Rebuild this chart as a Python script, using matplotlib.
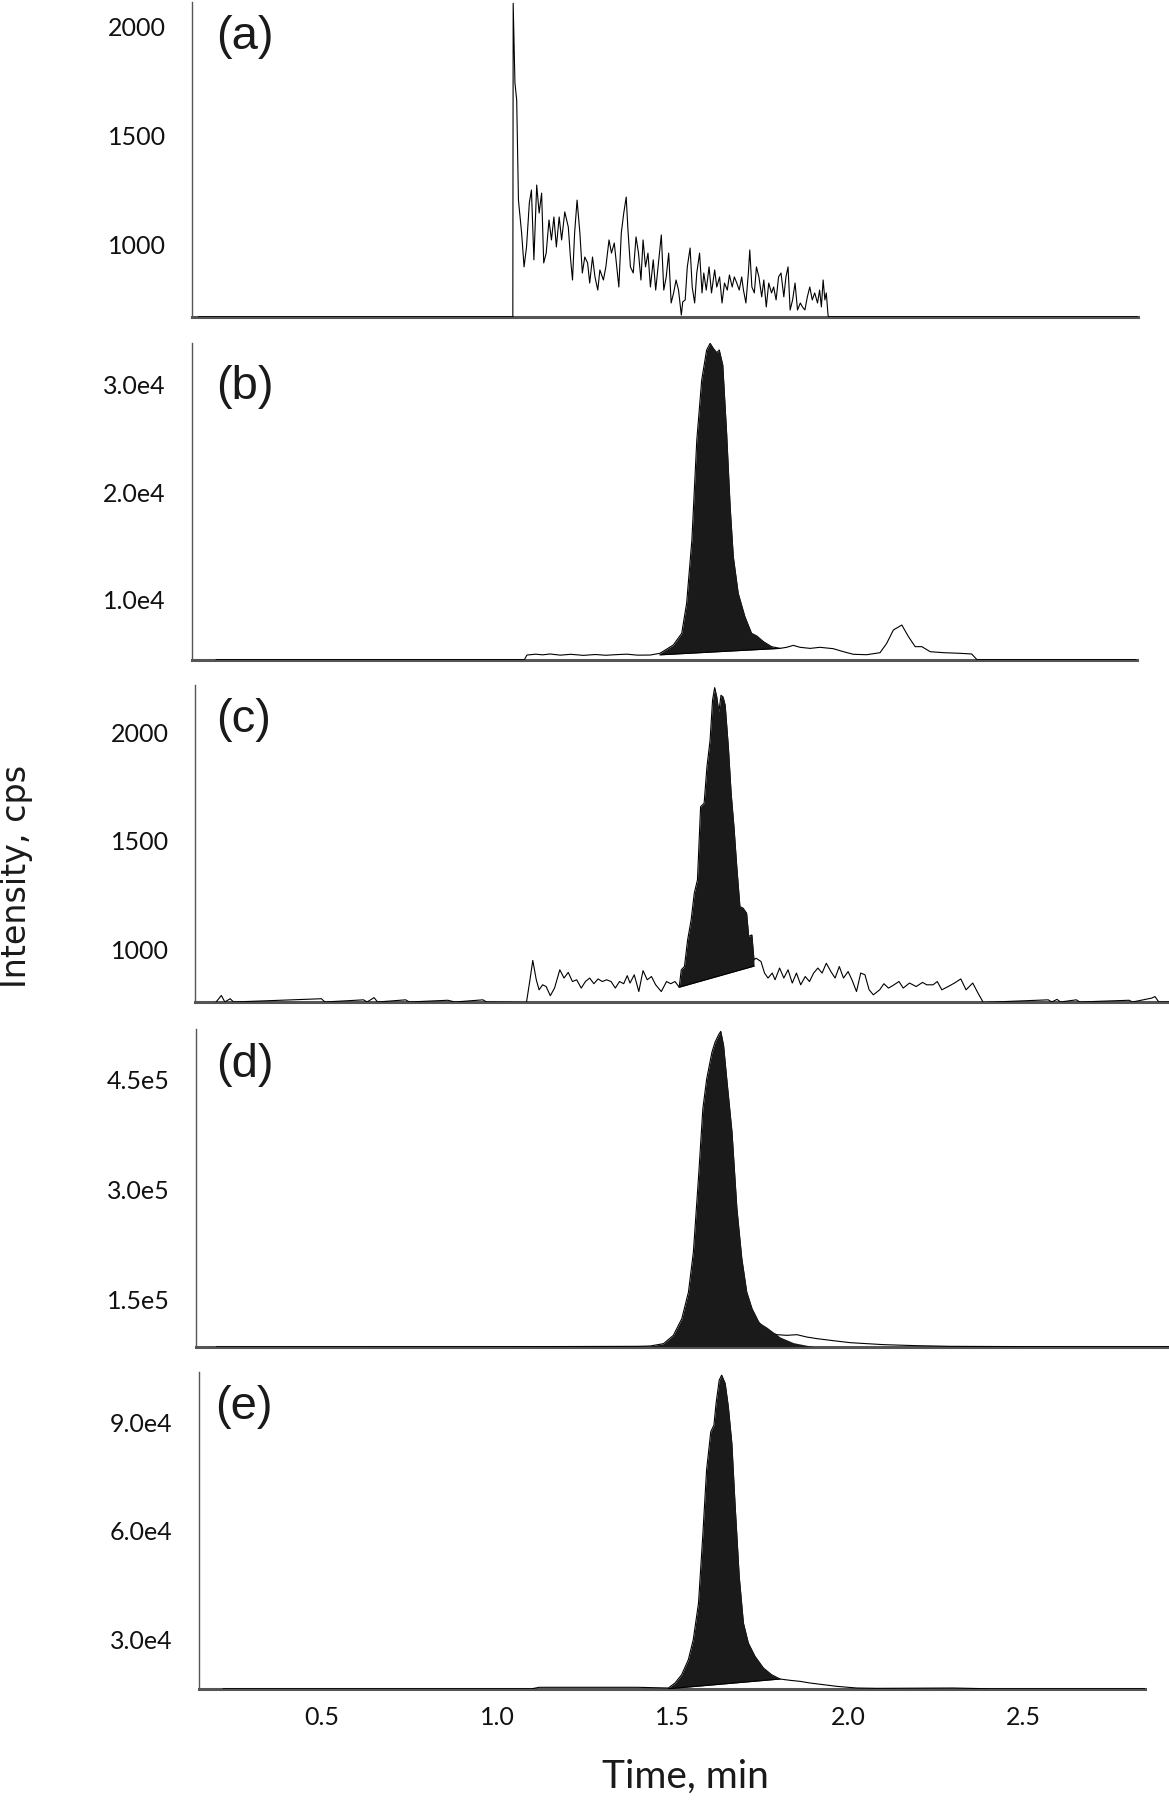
import numpy as np
import matplotlib
matplotlib.use("Agg")
import matplotlib.pyplot as plt


# --------------------------------------------------
# Chromatogram traces (time in min, intensity in cps)
# --------------------------------------------------

# (a) noisy trace
a_time = [
    0.150, 1.045, 1.046, 1.051, 1.056, 1.061, 1.070, 1.077, 1.084, 1.092,
    1.098, 1.105, 1.113, 1.120, 1.127, 1.133, 1.140, 1.148, 1.155, 1.162,
    1.169, 1.177, 1.184, 1.193, 1.203, 1.209, 1.215, 1.221, 1.228, 1.236,
    1.243, 1.250, 1.258, 1.264, 1.272, 1.279, 1.287, 1.293, 1.303, 1.310,
    1.319, 1.326, 1.334, 1.340, 1.347, 1.354, 1.361, 1.368, 1.373, 1.380,
    1.388, 1.396, 1.403, 1.410, 1.416, 1.423, 1.430, 1.437, 1.445, 1.452,
    1.460, 1.468, 1.475, 1.482, 1.489, 1.496, 1.503, 1.510, 1.517, 1.525,
    1.529, 1.536, 1.542, 1.550, 1.556, 1.563, 1.569, 1.577, 1.584, 1.589,
    1.596, 1.604, 1.611, 1.620, 1.626, 1.634, 1.641, 1.648, 1.656, 1.662,
    1.670, 1.676, 1.683, 1.690, 1.697, 1.702, 1.709, 1.716, 1.720, 1.726,
    1.733, 1.739, 1.746, 1.754, 1.760, 1.767, 1.774, 1.782, 1.788, 1.795,
    1.802, 1.809, 1.817, 1.823, 1.829, 1.835, 1.842, 1.849, 1.856, 1.864,
    1.870, 1.877, 1.884, 1.891, 1.898, 1.905, 1.913, 1.919, 1.924, 1.929,
    1.934, 1.938, 1.943, 1.944, 2.826,
]
a_int = [
    672, 672, 2104, 1740, 1662, 1205, 1055, 900, 991, 1192,
    1251, 932, 1274, 1146, 1237, 918, 963, 1114, 1023, 1128,
    991, 1128, 1023, 1151, 1082, 945, 840, 1055, 1205, 1055,
    872, 945, 918, 826, 945, 854, 794, 886, 840, 900,
    1023, 963, 1009, 918, 808, 1055, 1146, 1219, 1068, 900,
    872, 1037, 963, 840, 1023, 900, 963, 808, 932, 794,
    918, 1046, 794, 854, 963, 735, 781, 840, 794, 680,
    740, 749, 900, 986, 808, 735, 872, 963, 781, 872,
    794, 900, 781, 886, 808, 854, 735, 826, 794, 863,
    808, 854, 826, 794, 854, 794, 735, 872, 977, 808,
    781, 900, 854, 763, 840, 717, 826, 781, 808, 749,
    854, 872, 763, 854, 900, 703, 749, 826, 703, 735,
    717, 703, 763, 808, 749, 781, 735, 794, 717, 840,
    749, 781, 680, 672, 672,
]

# (b)
b_time = [
    0.200, 1.078, 1.085, 1.110, 1.130, 1.151, 1.180, 1.210, 1.246, 1.280,
    1.310, 1.341, 1.370, 1.400, 1.436, 1.464, 1.502, 1.526, 1.540, 1.555,
    1.569, 1.583, 1.597, 1.607, 1.616, 1.626, 1.633, 1.643, 1.654, 1.664,
    1.673, 1.687, 1.706, 1.725, 1.740, 1.759, 1.782, 1.806, 1.825, 1.844,
    1.863, 1.892, 1.920, 1.958, 1.987, 2.015, 2.053, 2.091, 2.110, 2.129,
    2.153, 2.172, 2.191, 2.210, 2.234, 2.272, 2.319, 2.352, 2.367, 2.820,
]
b_int = [
    4450, 4450, 4880, 4960, 4900, 4980, 4870, 4950, 4850, 4930,
    4860, 4920, 4960, 4870, 4880, 5040, 5810, 6900, 9690, 15580,
    24880, 30460, 33250, 33870, 33400, 33000, 33250, 31850, 25500, 18680,
    14030, 10620, 8450, 6900, 6650, 6120, 5660, 5500, 5600, 5780,
    5600, 5500, 5600, 5470, 5190, 4950, 4910, 5100, 5970, 7210,
    7670, 6590, 5660, 5660, 5190, 5100, 5040, 4980, 4450, 4450,
]
b_peak = (1.464, 1.806)
b_base = (4900, 5500)

# (c)
c_time = [
    0.200, 0.215, 0.225, 0.240, 0.250, 0.500, 0.510, 0.620, 0.630, 0.650,
    0.660, 0.740, 0.750, 0.860, 0.880, 0.960, 0.970,
    1.084, 1.094, 1.102, 1.112, 1.120, 1.130, 1.140, 1.152, 1.164, 1.179,
    1.191, 1.203, 1.215, 1.227, 1.240, 1.252, 1.264, 1.276, 1.288, 1.300,
    1.312, 1.325, 1.337, 1.349, 1.361, 1.371, 1.379, 1.391, 1.404, 1.416,
    1.428, 1.440, 1.452, 1.468, 1.483, 1.495, 1.507, 1.519, 1.525, 1.534,
    1.543, 1.553, 1.562, 1.571, 1.580, 1.590, 1.598, 1.607, 1.614, 1.620,
    1.626, 1.632, 1.638, 1.644, 1.650, 1.659, 1.667, 1.675, 1.683, 1.692,
    1.701, 1.711, 1.717, 1.726, 1.732, 1.738, 1.752, 1.762, 1.772, 1.784,
    1.792, 1.805, 1.817, 1.829, 1.841, 1.853, 1.865, 1.878, 1.890, 1.902,
    1.914, 1.926, 1.938, 1.951, 1.963, 1.975, 1.987, 2.000, 2.011, 2.024,
    2.036, 2.048, 2.060, 2.072, 2.090, 2.102, 2.115, 2.127, 2.145, 2.157,
    2.175, 2.194, 2.212, 2.224, 2.242, 2.254, 2.267, 2.285, 2.303, 2.321,
    2.336, 2.355, 2.370, 2.385,
    2.570, 2.580, 2.595, 2.605, 2.650, 2.660, 2.800, 2.810, 2.865, 2.874,
    2.885, 2.914,
]
c_int = [
    760, 790, 760, 775, 760, 775, 760, 770, 760, 780,
    760, 770, 760, 768, 760, 770, 760,
    758, 862, 951, 862, 816, 839, 831, 789, 824, 908,
    870, 896, 854, 862, 824, 854, 870, 844, 866, 854,
    862, 854, 824, 854, 844, 881, 847, 885, 808, 904,
    862, 877, 839, 808, 854, 844, 854, 828, 908, 923,
    1045, 1137, 1260, 1321, 1657, 1673, 1840, 1963, 2146, 2204,
    2161, 2092, 2169, 2161, 2123, 1932, 1718, 1565, 1382, 1198,
    1191, 1168, 1061, 1068, 954, 961, 946, 893, 870, 893,
    862, 916, 870, 908, 847, 893, 839, 877, 854, 893,
    916, 893, 938, 900, 870, 923, 870, 900, 862, 808,
    893, 885, 816, 793, 816, 844, 824, 835, 854, 824,
    847, 831, 850, 839, 839, 854, 816, 831, 847, 866,
    816, 847, 801, 758,
    770, 760, 772, 760, 770, 760, 768, 760, 778, 785,
    760, 760,
]
c_peak = (1.519, 1.732)
c_base = (828, 925)

# (d)
d_time = [
    0.200, 1.100, 1.400, 1.436, 1.474, 1.502, 1.526, 1.545, 1.559, 1.574,
    1.586, 1.597, 1.612, 1.621, 1.631, 1.637, 1.645, 1.654, 1.669, 1.683,
    1.697, 1.711, 1.726, 1.745, 1.768, 1.797, 1.825, 1.854, 1.882, 1.911,
    1.958, 2.006, 2.101, 2.196, 2.291, 2.500, 2.914,
]
d_int = [
    86200, 86400, 86800, 87270, 90450, 101800, 124500, 160900, 215400, 320000,
    410900, 451800, 488100, 501800, 511800, 516300, 497200, 451800, 379100, 274500,
    206400, 160900, 138200, 120000, 107300, 102700, 101800, 102700, 99500, 97300,
    94500, 91800, 89100, 87700, 86800, 86400, 86300,
]
# integration edge of the tailing side (drops below the raw trace)
d_tail_time = [1.745, 1.768, 1.806, 1.844, 1.882, 1.900]
d_tail_int = [120000, 113000, 99500, 91800, 88200, 86700]
d_peak = (1.436, 1.900)
d_base = (86500, 86500)

# (e)
e_time = [
    0.220, 1.100, 1.120, 1.400, 1.488, 1.507, 1.526, 1.545, 1.559, 1.574,
    1.586, 1.597, 1.609, 1.618, 1.624, 1.633, 1.640, 1.650, 1.659, 1.669,
    1.678, 1.690, 1.702, 1.716, 1.735, 1.759, 1.782, 1.806, 1.835, 1.863,
    1.892, 1.930, 1.968, 2.025, 2.082, 2.300, 2.400, 2.846,
]
e_int = [
    16500, 16500, 16900, 16900, 16700, 18080, 20380, 24500, 30000, 40100,
    58450, 76800, 87350, 89180, 95140, 101570, 102940, 100650, 94230, 84140,
    67620, 47440, 34590, 29090, 25420, 22210, 20380, 19180, 18820, 18540,
    18080, 17620, 17160, 16700, 16610, 16700, 16500, 16500,
]
e_peak = (1.488, 1.806)
e_base = (16500, 19180)

# axis ranges and tick labels
xlims = [(0.131, 2.826), (0.131, 2.823), (0.140, 2.914), (0.142, 2.914), (0.151, 2.846)]
ylims = [(671, 2110), (4419, 33900), (760, 2216), (85900, 519500), (16430, 103800)]
yticks = [
    [1000, 1500, 2000],
    [1.0e4, 2.0e4, 3.0e4],
    [1000, 1500, 2000],
    [1.5e5, 3.0e5, 4.5e5],
    [3.0e4, 6.0e4, 9.0e4],
]
ytick_labels = [
    ["1000", "1500", "2000"],
    ["1.0e4", "2.0e4", "3.0e4"],
    ["1000", "1500", "2000"],
    ["1.5e5", "3.0e5", "4.5e5"],
    ["3.0e4", "6.0e4", "9.0e4"],
]
xticks = [0.5, 1.0, 1.5, 2.0, 2.5]
xtick_labels = ["0.5", "1.0", "1.5", "2.0", "2.5"]
panel_letters = ["(a)", "(b)", "(c)", "(d)", "(e)"]


# --------------------------------------------------
# Layout (pixel boxes of the five stacked panels: left, top, right, bottom)
# --------------------------------------------------

W, H = 1169, 1800
boxes = [
    (192, 2, 1138, 317),
    (192, 343, 1137, 660),
    (195, 685, 1169, 1002),
    (196, 1029, 1169, 1347),
    (199, 1372, 1145, 1689),
]
letter_pos = [(216, 15), (216, 365), (216, 698), (216, 1043), (215, 1385)]

tick_font = "Lato"
fill_col = "#1a1a1a"

fig = plt.figure(figsize=(W / 100, H / 100), dpi=100)

traces = [
    (a_time, a_int),
    (b_time, b_int),
    (c_time, c_int),
    (d_time, d_int),
    (e_time, e_int),
]
peaks = [None, (b_peak, b_base), (c_peak, c_base), (d_peak, d_base), (e_peak, e_base)]

for i, (L, T, R, B) in enumerate(boxes):
    ax = fig.add_axes([L / W, 1 - B / H, (R - L) / W, (B - T) / H])
    t = np.array(traces[i][0])
    y = np.array(traces[i][1])

    ax.plot(t, y, color="black", lw=0.8, zorder=3)

    if peaks[i] is not None:
        (t0, t1), (y0, y1) = peaks[i]
        m = (t >= t0) & (t <= t1)
        ft = t[m]
        fy = y[m]
        if i == 3:
            m = (t >= t0) & (t < d_tail_time[0])
            ft = np.concatenate([t[m], d_tail_time])
            fy = np.concatenate([y[m], d_tail_int])
        base = np.interp(ft, [t0, t1], [y0, y1])
        ax.fill_between(ft, fy, base, color=fill_col, lw=0, zorder=4)
        if i != 3:
            ax.plot([t0, t1], [y0, y1], color="black", lw=0.8, zorder=4)

    ax.set_xlim(xlims[i])
    ax.set_ylim(ylims[i])
    ax.set_yticks(yticks[i])
    ax.set_yticklabels(ytick_labels[i], fontfamily=tick_font, fontsize=18, color="#111111")
    ax.tick_params(axis="y", length=0, pad=19)

    if i == 4:
        ax.set_xticks(xticks)
        ax.set_xticklabels(xtick_labels, fontfamily=tick_font, fontsize=18, color="#111111")
        ax.tick_params(axis="x", length=0, pad=12)
    else:
        ax.set_xticks([])

    for s in ["top", "right"]:
        ax.spines[s].set_visible(False)
    ax.spines["left"].set_color("#555555")
    ax.spines["left"].set_linewidth(1.0)
    ax.spines["bottom"].set_color("#555555")
    ax.spines["bottom"].set_linewidth(2.2)
    ax.patch.set_alpha(0)

    lx, ly = letter_pos[i]
    fig.text(lx / W, 1 - ly / H, panel_letters[i], ha="left", va="top",
             fontsize=34, fontfamily="Liberation Sans", color="#1a1a1a")

fig.text(17 / W, 1 - 876 / H, "Intensity, cps", rotation=90, ha="center", va="center",
         fontsize=24, fontfamily="DejaVu Sans", color="#1a1a1a")
fig.text(685 / W, 1 - 1777 / H, "Time, min", ha="center", va="center",
         fontsize=28, fontfamily=tick_font, color="#1a1a1a")

fig.savefig("out.png", dpi=100)
